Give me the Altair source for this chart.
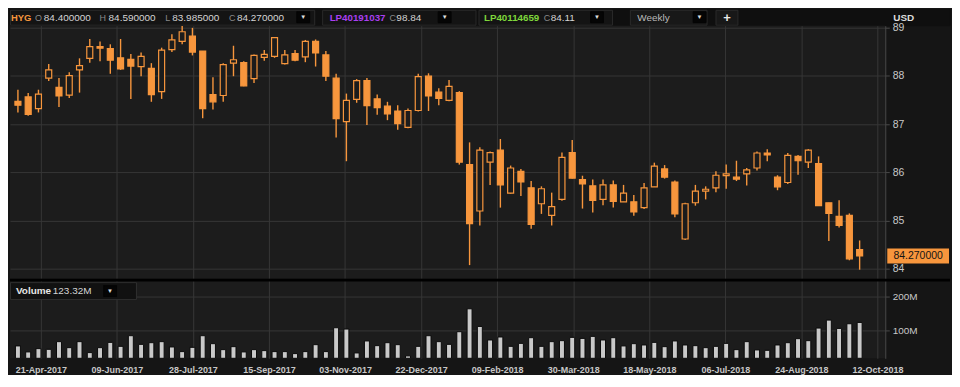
import altair as alt
import pandas as pd

# ---- data (weekly HYG candles, Apr-2017 .. Oct-2018) ----
opens = [87.47, 87.56, 87.32, 87.95, 87.76, 87.60, 88.12, 88.36, 88.60, 88.56,
         88.37, 88.34, 88.19, 88.15, 87.67, 88.54, 88.71, 88.82, 88.51, 87.61,
         87.59, 88.26, 88.27, 87.94, 88.38, 88.40, 88.25, 88.46, 88.39, 88.71,
         88.43, 87.95, 87.05, 87.51, 87.90, 87.52, 87.37, 87.27, 86.93, 87.28,
         87.99, 87.66, 87.49, 87.65, 86.16, 85.20, 86.21, 86.46, 85.57, 86.02,
         85.68, 85.35, 85.11, 85.44, 86.41, 85.85, 85.72, 85.44, 85.74, 85.39,
         85.39, 85.27, 85.70, 86.07, 85.80, 84.62, 85.37, 85.61, 85.68, 85.93,
         85.90, 85.97, 86.09, 86.40, 85.90, 85.79, 86.33, 86.21, 86.18, 85.37,
         85.09, 85.11, 84.40]
highs = [87.71, 87.64, 87.71, 88.24, 87.95, 88.07, 88.36, 88.76, 88.71, 88.65,
         88.76, 88.45, 88.48, 88.26, 88.58, 88.86, 89.03, 88.99, 88.51, 87.97,
         88.26, 88.62, 88.30, 88.44, 88.53, 88.80, 88.53, 88.53, 88.74, 88.75,
         88.51, 88.04, 87.63, 87.93, 87.95, 87.61, 87.46, 87.39, 87.32, 88.04,
         88.05, 87.74, 87.91, 87.68, 86.62, 86.52, 86.43, 86.69, 86.14, 86.07,
         85.82, 85.71, 85.58, 86.41, 86.67, 85.93, 85.85, 85.85, 85.83, 85.74,
         85.53, 85.78, 86.20, 86.15, 85.83, 85.37, 85.74, 85.71, 86.02, 86.16,
         86.24, 86.09, 86.43, 86.48, 85.94, 86.40, 86.36, 86.48, 86.33, 85.37,
         85.42, 85.15, 84.59]
lows = [87.24, 87.17, 87.24, 87.89, 87.35, 87.54, 87.65, 88.27, 88.30, 88.04,
        88.12, 87.52, 87.99, 87.46, 87.52, 88.49, 88.65, 88.42, 87.12, 87.30,
        87.46, 87.99, 87.78, 87.85, 88.31, 88.37, 88.23, 88.30, 88.28, 88.19,
        87.89, 86.72, 86.23, 87.44, 86.98, 87.19, 87.08, 86.88, 86.91, 87.26,
        87.27, 87.39, 87.47, 86.16, 84.08, 84.90, 85.74, 85.27, 85.56, 85.51,
        84.83, 85.14, 84.90, 85.41, 85.87, 85.25, 85.17, 85.32, 85.27, 85.39,
        85.10, 85.24, 85.70, 85.87, 85.07, 84.60, 85.31, 85.44, 85.59, 85.66,
        85.82, 85.73, 86.04, 86.23, 85.63, 85.76, 85.95, 86.09, 85.31, 84.58,
        84.86, 84.18, 83.985]
closes = [87.39, 87.20, 87.62, 88.12, 87.58, 88.00, 88.21, 88.60, 88.57, 88.32,
          88.14, 88.20, 88.40, 87.61, 88.53, 88.74, 88.91, 88.49, 87.32, 87.46,
          88.23, 88.33, 87.79, 88.42, 88.44, 88.79, 88.43, 88.32, 88.71, 88.47,
          87.99, 87.11, 87.49, 87.90, 87.38, 87.34, 87.21, 87.01, 87.28, 87.98,
          87.58, 87.53, 87.78, 86.21, 84.94, 86.46, 86.41, 85.74, 86.09, 85.80,
          84.92, 85.66, 85.29, 86.31, 85.88, 85.76, 85.42, 85.74, 85.40, 85.57,
          85.18, 85.68, 86.13, 85.90, 85.14, 85.35, 85.61, 85.65, 85.94, 85.97,
          85.86, 86.05, 86.40, 86.36, 85.70, 86.35, 86.24, 86.46, 85.31, 85.15,
          84.90, 84.21, 84.27]
volumes = [54.7, 37.2, 46.8, 44.8, 67.2, 49.7, 67.2, 35.2, 49.7, 65.1,
           53.5, 84.6, 59.3, 64.2, 67.2, 51.7, 38.1, 50.6, 84.6, 61.3,
           43.9, 52.6, 37.2, 43.9, 41.0, 38.1, 38.1, 32.3, 38.1, 58.4,
           38.1, 107.8, 104.0, 34.2, 69.2, 55.5, 64.2, 58.4, 25.6, 53.5,
           84.6, 67.2, 59.3, 96.2, 163.1, 111.6, 72.1, 80.8, 53.5, 62.2,
           78.8, 53.5, 67.2, 70.1, 79.7, 76.7, 82.6, 72.1, 78.8, 54.7,
           61.3, 57.5, 65.1, 52.6, 69.2, 57.5, 55.5, 49.7, 53.5, 62.2,
           43.9, 67.2, 43.0, 41.9, 57.5, 64.2, 75.9, 70.1, 106.9, 130.2,
           105.9, 119.5, 123.32]

date_ticks = [2.23, 9.64, 17.05, 24.46, 31.87, 39.28, 46.69, 54.10, 61.51, 68.92, 76.33, 83.74]
date_labels = ["21-Apr-2017", "09-Jun-2017", "28-Jul-2017", "15-Sep-2017", "03-Nov-2017",
               "22-Dec-2017", "09-Feb-2018", "30-Mar-2018", "18-May-2018", "06-Jul-2018",
               "24-Aug-2018", "12-Oct-2018"]
price_ticks = [84, 85, 86, 87, 88, 89]
volume_ticks = [100, 200]

ticker = "HYG"
series2 = ("LP40191037", "98.84")
series3 = ("LP40114659", "84.11")

# ---- style / layout ----
W = 879
RIGHT = 65
H0, H1, H2 = 16, 254, 80
BG = "#151515"
PLOT = "#1c1c1c"
HEAD = "#0f0f0f"
ORANGE = "#f7963d"
GRID = "#363636"
AXIS = "#4a4a4a"
LABEL = "#c8c8c8"
FONT = "Liberation Sans"

df = pd.DataFrame({
    "i": list(range(len(opens))),
    "open": opens, "high": highs, "low": lows, "close": closes, "volume": volumes,
})
df["dir"] = ["down" if c < o else "up" for o, c in zip(opens, closes)]

x_scale = alt.Scale(domain=[-0.288, 84.014], nice=False, zero=False)
p_scale = alt.Scale(domain=[83.80, 89.035], nice=False, zero=False)
VMIN = 18.6
v_scale = alt.Scale(domain=[VMIN, 251.2], nice=False, zero=False)

label_expr = "[" + ",".join("'%s'" % t for t in date_labels) + "][round((datum.value - %s) / %s)]" % (
    date_ticks[0], round((date_ticks[-1] - date_ticks[0]) / (len(date_ticks) - 1), 4))

dummy = alt.Data(values=[{"a": 1}])


def txt(s, x, y, color, size=10, bold=False, align="left"):
    return alt.Chart(dummy).mark_text(
        text=s, align=align, baseline="middle", font=FONT, fontSize=size,
        fontWeight="bold" if bold else "normal", color=color,
    ).encode(x=alt.value(x), y=alt.value(y))


def box(x1, x2, y1, y2, fill, stroke="#2a2a2a", sw=1):
    return alt.Chart(dummy).mark_rect(fill=fill, stroke=stroke, strokeWidth=sw).encode(
        x=alt.value(x1), x2=alt.value(x2), y=alt.value(y1), y2=alt.value(y2))


def dropdown(x1, y1, y2):
    return [box(x1, x1 + 13, y1, y2, "#050505", stroke="#050505"),
            txt("\u25BC", x1 + 6.5, (y1 + y2) / 2, "#e0e0e0", size=6, align="center")]


last = len(opens) - 1

# ---- header bar ----
hy = 8
header_layers = [
    box(0, W + RIGHT, 0, H0, HEAD, stroke=HEAD),
    box(0.5, 306, 0.5, 15.5, "#141414"),
    box(314, 468, 0.5, 15.5, "#141414"),
    box(471, 605, 0.5, 15.5, "#141414"),
    box(623, 700, 0.5, 15.5, "#181818"),
    box(709, 731, 0.5, 15.5, "#181818"),
    txt(ticker, 1, hy, ORANGE, size=9.5, bold=True),
    txt("O", 25, hy, "#8a8a8a", size=9),
    txt("%.6f" % opens[last], 34, hy, "#d4d4d4"),
    txt("H", 90, hy, "#8a8a8a", size=9),
    txt("%.6f" % highs[last], 99, hy, "#d4d4d4"),
    txt("L", 156, hy, "#8a8a8a", size=9),
    txt("%.6f" % lows[last], 163, hy, "#d4d4d4"),
    txt("C", 220, hy, "#8a8a8a", size=9),
    txt("%.6f" % closes[last], 228, hy, "#d4d4d4"),
    txt(series2[0], 321, hy, "#a93ff0", size=9.8, bold=True),
    txt("C", 381, hy, "#8a8a8a", size=9),
    txt(series2[1], 388, hy, "#d4d4d4"),
    txt(series3[0], 476, hy, "#7ed63b", size=9.8, bold=True),
    txt("C", 536, hy, "#8a8a8a", size=9),
    txt(series3[1], 543, hy, "#d4d4d4"),
    txt("Weekly", 630, hy, "#b8b8b8"),
    txt("+", 720, hy, "#e8e8e8", size=13, bold=True, align="center"),
    txt("USD", W + 8, hy, "#dddddd", size=10, bold=True),
]
for xx in (288, 430, 583, 686):
    header_layers += dropdown(xx, 2, 13)
header = alt.layer(*header_layers).properties(width=W + RIGHT, height=H0)

# ---- price panel ----
base = alt.Chart(df)
x_grid_axis = alt.Axis(values=date_ticks, grid=True, gridColor=GRID, labels=False,
                       ticks=False, domain=False, title="")
price_axis = alt.Axis(orient="right", values=price_ticks, grid=True, gridColor=GRID,
                      domainColor=AXIS, tickColor=AXIS, tickSize=4, labelPadding=3,
                      labelColor=LABEL, labelFontSize=10.5, title="")

wick = base.mark_rule(color=ORANGE, strokeWidth=1.4).encode(
    x=alt.X("i:Q", scale=x_scale, axis=x_grid_axis),
    y=alt.Y("low:Q", scale=p_scale, axis=price_axis),
    y2="high:Q",
)
body = base.mark_bar(size=6, stroke=ORANGE, strokeWidth=1.2).encode(
    x=alt.X("i:Q", scale=x_scale),
    y=alt.Y("open:Q", scale=p_scale),
    y2="close:Q",
    fill=alt.Fill("dir:N", scale=alt.Scale(domain=["down", "up"], range=[ORANGE, PLOT]), legend=None),
)
last_row = base.transform_filter("datum.i == %d" % last)
tag = last_row.mark_tick(orient="horizontal", size=62, thickness=15, color=ORANGE, opacity=1).encode(
    x=alt.value(W + 33), y=alt.Y("close:Q", scale=p_scale))
tag_text = last_row.mark_text(font=FONT, fontSize=10.5, color="#141414", align="center",
                              baseline="middle").encode(
    x=alt.value(W + 33), y=alt.Y("close:Q", scale=p_scale),
    text=alt.Text("close:Q", format=".6f"))

price = alt.layer(wick, body, tag, tag_text).properties(width=W, height=H1)

# ---- volume panel ----
vol_x_axis = alt.Axis(values=date_ticks, labelExpr=label_expr, grid=True, gridColor=GRID,
                      ticks=False, domain=False, labelColor=LABEL, labelFont=FONT,
                      labelFontSize=9, labelFontWeight="bold", labelPadding=7,
                      labelFlush=False, labelOverlap=False, title="")
vol_y_axis = alt.Axis(orient="right", values=volume_ticks, labelExpr="datum.value + 'M'",
                      grid=True, gridColor=GRID, domainColor=AXIS, tickColor=AXIS, tickSize=4,
                      labelPadding=3, labelColor=LABEL, labelFontSize=10, title="")
vbars = base.mark_bar(size=5, color="#c9c9c9", stroke="#0a0a0a", strokeWidth=1).encode(
    x=alt.X("i:Q", scale=x_scale, axis=vol_x_axis),
    y=alt.Y("volume:Q", scale=v_scale, axis=vol_y_axis),
    y2=alt.datum(VMIN),
)
sep = alt.Chart(dummy).mark_rule(color="#000000", strokeWidth=3).encode(
    x=alt.value(0), x2=alt.value(W + RIGHT), y=alt.value(1.5))
vol_layers = [vbars, sep,
              box(0.5, 127, 4, 21, "#111111", stroke="#2e2e2e"),
              txt("Volume", 6, 12.5, "#e6e6e6", size=10, bold=True),
              txt("%.2fM" % volumes[last], 43, 12.5, "#d4d4d4", size=10)]
vol_layers += dropdown(94, 7, 18)
volume = alt.layer(*vol_layers).properties(width=W, height=H2)

chart = alt.vconcat(header, price, volume, spacing=0, bounds="flush").properties(
    padding=0, background=BG
).configure_view(fill=PLOT, strokeWidth=0).configure_axis(labelFont=FONT)

chart.save("out.html", embed_options={"renderer": "svg", "actions": False})
